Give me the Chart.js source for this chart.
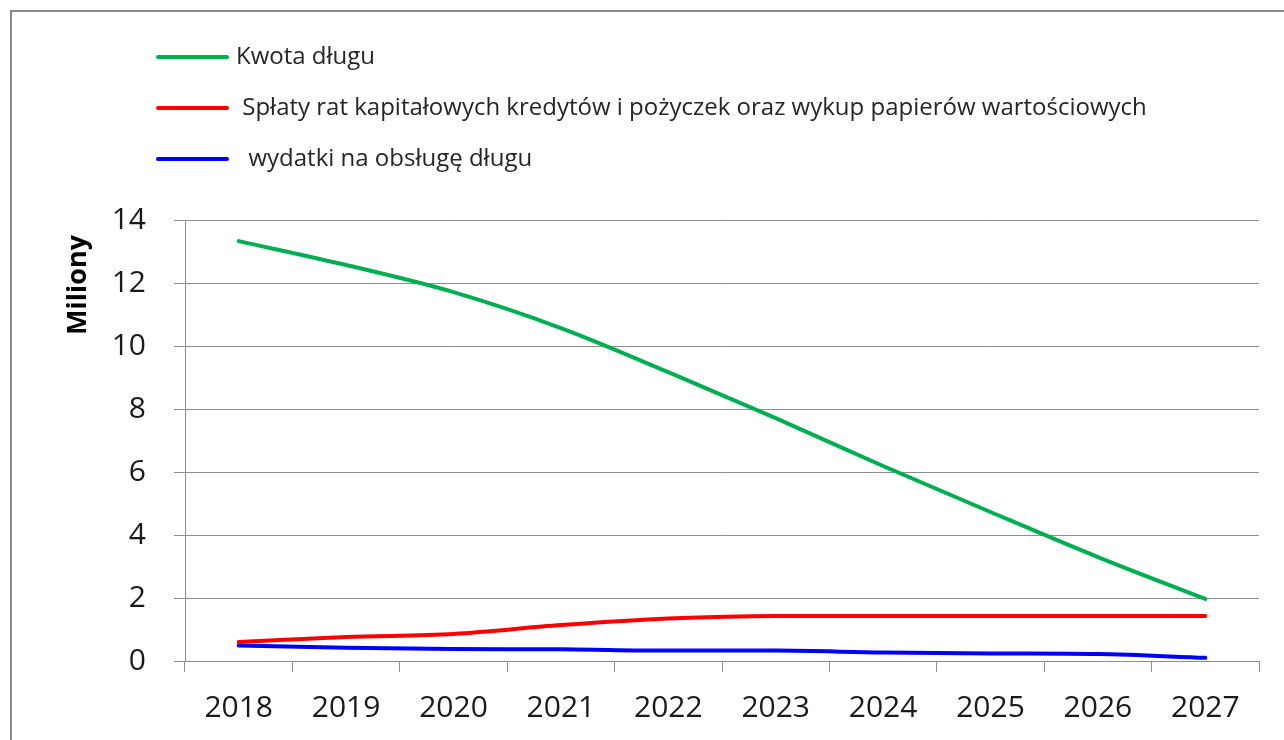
<!DOCTYPE html>
<html>
<head>
<meta charset="utf-8">
<script src="https://cdn.jsdelivr.net/npm/chart.js@4/dist/chart.umd.min.js"></script>
<style>
  body { margin: 0; background: #fff; }
  #frame { position: absolute; left: 10px; top: 10px; width: 1300px; height: 760px; border-left: 2px solid #8a8a8a; border-top: 2px solid #8a8a8a; }
  #wrap { position: absolute; left: 0; top: 0; width: 1284px; height: 740px; }
</style>
</head>
<body>
<div id="frame"></div>
<div id="wrap"><canvas id="lineChart" width="1284" height="740"></canvas></div>
<script>
// dane z wykresu (w milionach)
const years = ['2018', '2019', '2020', '2021', '2022', '2023', '2024', '2025', '2026', '2027'];
const kwotaDlugu = [13.33, 12.57, 11.71, 10.57, 9.17, 7.71, 6.19, 4.73, 3.30, 1.97];
const splatyRat = [0.60, 0.76, 0.86, 1.14, 1.35, 1.43, 1.43, 1.43, 1.43, 1.43];
const wydatkiObsluga = [0.49, 0.42, 0.38, 0.37, 0.33, 0.33, 0.27, 0.24, 0.22, 0.10];
const seriesNames = ['Kwota długu', ' Spłaty rat kapitałowych kredytów i pożyczek oraz wykup papierów wartościowych', '  wydatki na obsługę długu'];
const colors = ['#00B050', '#FF0000', '#0000FF'];

Chart.defaults.font.family = "'Open Sans', sans-serif";
Chart.defaults.color = '#1a1a1a';

// legenda pionowa + tytul osi Y rysowane recznie
const extras = {
    id: 'extras',
    afterDraw(chart) {
        const ctx = chart.ctx;
        ctx.save();
        ctx.font = "24px 'Open Sans', sans-serif";
        ctx.textBaseline = 'middle';
        chart.data.datasets.forEach((ds, i) => {
            const y = 57 + i * 51;
            ctx.strokeStyle = ds.borderColor;
            ctx.lineWidth = 4;
            ctx.lineCap = 'round';
            ctx.beginPath();
            ctx.moveTo(158, y);
            ctx.lineTo(227, y);
            ctx.stroke();
            ctx.fillStyle = '#262626';
            ctx.fillText(ds.label, 236, y);
        });
        // Miliony
        ctx.translate(78, 285);
        ctx.rotate(-Math.PI / 2);
        ctx.textAlign = 'center';
        ctx.font = "bold 27px 'Open Sans', sans-serif";
        ctx.fillStyle = '#000';
        ctx.fillText('Miliony', 0, 0);
        ctx.restore();
    }
};

new Chart(document.getElementById('lineChart'), {
    type: 'line',
    data: {
        labels: years,
        datasets: [
            { label: seriesNames[0], data: kwotaDlugu, borderColor: colors[0] },
            { label: seriesNames[1], data: splatyRat, borderColor: colors[1] },
            { label: seriesNames[2], data: wydatkiObsluga, borderColor: colors[2] }
        ]
    },
    options: {
        responsive: false,
        animation: false,
        layout: { padding: { top: 220, right: 25, left: 0, bottom: 0 } },
        elements: {
            line: { borderWidth: 4, cubicInterpolationMode: 'monotone', borderCapStyle: 'round' },
            point: { radius: 0 }
        },
        plugins: { legend: { display: false }, tooltip: { enabled: false } },
        scales: {
            x: {
                offset: true,
                afterFit: s => { s.height = 79; },
                grid: { offset: true, drawOnChartArea: false, tickLength: 11, color: '#8e8e8e' },
                border: { color: '#8e8e8e', width: 1 },
                ticks: { font: { size: 30 }, padding: 18, maxRotation: 0 }
            },
            y: {
                min: 0,
                max: 14,
                afterFit: s => { s.width = 185; },
                grid: { tickLength: 11, color: '#8e8e8e' },
                border: { color: '#8e8e8e', width: 1 },
                ticks: { stepSize: 2, font: { size: 30 }, padding: 28 }
            }
        }
    },
    plugins: [extras]
});
</script>
</body>
</html>
